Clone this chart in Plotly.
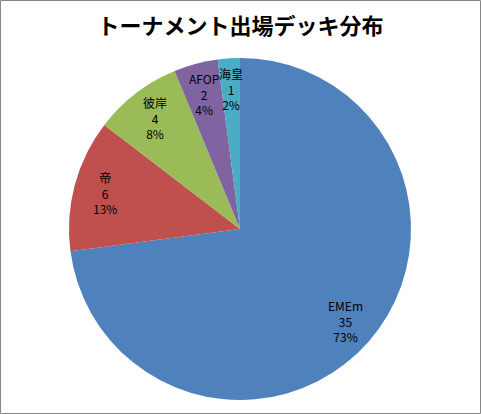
import math
import plotly.graph_objects as go

labels = ["EMEm", "帝", "彼岸", "AFOP", "海皇"]
values = [35, 6, 4, 2, 1]
colors = ["#4F81BD", "#C0504D", "#9BBB59", "#8064A2", "#4BACC6"]
title = "トーナメント出場デッキ分布"

W, H = 481, 414
cx, cy, R = 240, 229, 171  # pie centre and radius in pixels

fig = go.Figure(go.Pie(
    labels=labels, values=values, sort=False, direction="clockwise", rotation=0,
    marker=dict(colors=colors, line=dict(width=0)),
    textinfo="none", hoverinfo="label+value+percent", showlegend=False,
    domain=dict(x=[(cx - R) / W, (cx + R) / W], y=[1 - (cy + R) / H, 1 - (cy - R) / H]),
))

total = sum(values)
cum = 0
annotations = []
for lab, v in zip(labels, values):
    mid = (cum + v / 2) / total * 2 * math.pi
    cum += v
    r = 0.82 * R
    px = cx + r * math.sin(mid)
    py = cy - r * math.cos(mid)
    pct = math.floor(v / total * 100 + 0.5)
    annotations.append(dict(
        x=px / W, y=1 - py / H, xref="paper", yref="paper",
        text=f"{lab}<br>{v}<br>{pct}%", showarrow=False,
        font=dict(family="Noto Sans CJK JP", size=12, color="#000000"),
        xanchor="center", yanchor="middle", align="center",
    ))

fig.update_layout(
    width=W, height=H,
    margin=dict(l=0, r=0, t=0, b=0),
    paper_bgcolor="white", plot_bgcolor="white",
    title=dict(text=f"<b>{title}</b>", x=0.5, xanchor="center", y=1 - 26 / H, yanchor="middle",
               font=dict(family="Noto Sans CJK JP", size=22, color="#000000")),
    annotations=annotations,
    shapes=[dict(type="rect", xref="paper", yref="paper", x0=0.5 / W, y0=0.5 / H,
                 x1=1 - 0.5 / W, y1=1 - 0.5 / H, line=dict(color="#868686", width=1))],
)

fig.write_html("out.html", config={"displayModeBar": False},
               post_script="document.body.style.margin='0';document.body.style.padding='0';document.body.style.overflow='hidden';")
